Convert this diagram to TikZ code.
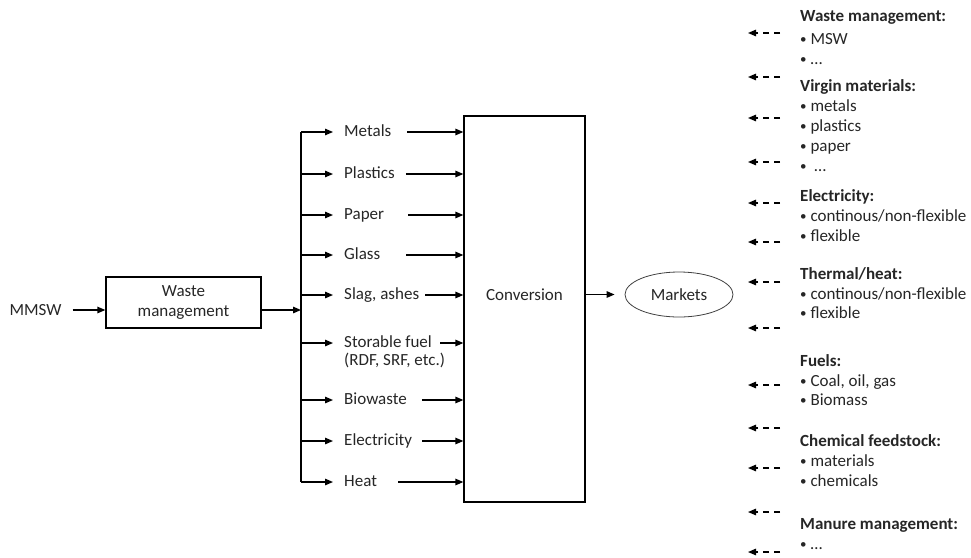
\documentclass[tikz,border=0pt]{standalone}
\usepackage{fontspec}
\setmainfont{Carlito}
\usetikzlibrary{arrows.meta,shapes.geometric}
\newcommand{\mybul}{\raisebox{0.6pt}{\fontsize{13}{13}\selectfont•}\ }
\begin{document}
\begin{tikzpicture}[x=1pt,y=-1pt,
  every node/.style={font=\fontsize{17}{20.5}\selectfont, text=black!85, inner sep=0pt},
  lab/.style={anchor=west},
  head/.style={anchor=west, font=\fontsize{17}{20.5}\selectfont\bfseries},
  arr/.style={-{Triangle[length=8pt,width=6.5pt]}, line width=1.3pt},
  darr/.style={-{Triangle[length=8pt,width=6.5pt]}, line width=1.3pt, dash pattern=on 6pt off 5pt},
  box/.style={draw=black, line width=1.3pt, rectangle}]
\useasboundingbox (0,0) rectangle (971,557);

% left part
\node (mmsw) at (35.5,310) {MMSW};
\node[box, minimum width=155pt, minimum height=51pt, align=center] (wm) at (183.5,302.5) {Waste\\management};
\draw[arr] ([xshift=11pt]mmsw.east) -- (mmsw -| wm.west);

\coordinate (busT) at (301,132);
\coordinate (busB) at (301,482);
\draw[line width=1.3pt] (busT) -- (busB);
\draw[arr] (mmsw -| wm.east) -- (mmsw -| busT);

\node[box, minimum width=121pt, minimum height=386pt] (conv) at (524.5,309) {};
\node (convt) at (524.5,295) {Conversion};

\foreach \n/\y/\lbl/\gp in {1/132/Metals/16, 2/174/Plastics/11, 3/215/Paper/24, 4/255/Glass/26, 5/295/{Slag, ashes}/6, 6/343/Storable fuel/8, 7/400/Biowaste/15, 8/441/Electricity/10, 9/482/Heat/21}
{
  \node[lab] (l\n) at (344,\y) {\strut\lbl};
  \draw[arr] (busT |- l\n.west) -- ([xshift=-11pt]l\n.west);
  \draw[arr] ([xshift=\gp pt]l\n.east) -- (conv.west |- l\n.west);
}
\node[lab] (l6b) at (344,361) {\strut(RDF, SRF, etc.)};

\node[draw=black!75, line width=0.8pt, ellipse, minimum width=108pt, minimum height=45pt] (mk) at (679,294.5) {Markets};
\draw[arr] (conv.east |- mk.west) -- ([xshift=-10pt]mk.west);

% right part
\foreach \i/\y in {1/33,2/77,3/118,4/162,5/203,6/242,7/282,8/328,9/385,10/428,11/468,12/512,13/552}
{
  \coordinate (ds\i) at (780,\y);
  \coordinate (de\i) at (748,\y);
  \draw[darr] (ds\i) -- (de\i);
}

\node[head] (h1) at (800,17) {\strut Waste management:};
\node[lab] (t1a) at (800,40) {\strut\mybul MSW};
\node[lab] (t1b) at (800,60) {\strut\mybul …};
\node[head] (h2) at (800,87) {\strut Virgin materials:};
\node[lab] (t2a) at (800,107) {\strut\mybul metals};
\node[lab] (t2b) at (800,127) {\strut\mybul plastics};
\node[lab] (t2c) at (800,147) {\strut\mybul paper};
\node[lab] (t2d) at (800,167) {\strut\mybul\ …};
\node[head] (h3) at (800,197) {\strut Electricity:};
\node[lab] (t3a) at (800,217) {\strut\mybul continous/non-flexible};
\node[lab] (t3b) at (800,237) {\strut\mybul flexible};
\node[head] (h4) at (800,275) {\strut Thermal/heat:};
\node[lab] (t4a) at (800,295) {\strut\mybul continous/non-flexible};
\node[lab] (t4b) at (800,314) {\strut\mybul flexible};
\node[head] (h5) at (800,362) {\strut Fuels:};
\node[lab] (t5a) at (800,382) {\strut\mybul Coal, oil, gas};
\node[lab] (t5b) at (800,401) {\strut\mybul Biomass};
\node[head] (h6) at (800,442) {\strut Chemical feedstock:};
\node[lab] (t6a) at (800,462) {\strut\mybul materials};
\node[lab] (t6b) at (800,482) {\strut\mybul chemicals};
\node[head] (h7) at (800,525) {\strut Manure management:};
\node[lab] (t7a) at (800,545) {\strut\mybul …};
\end{tikzpicture}
\end{document}
